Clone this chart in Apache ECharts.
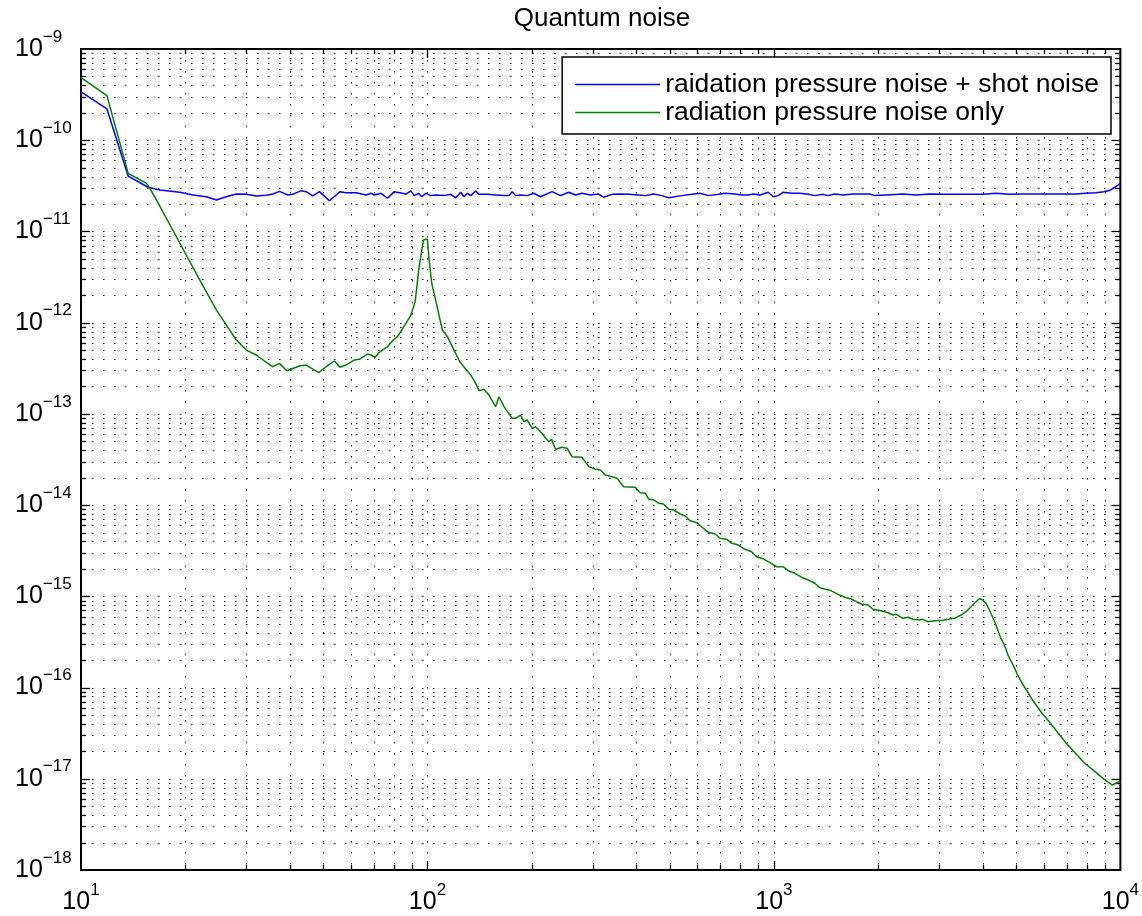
<!DOCTYPE html>
<html>
<head>
<meta charset="utf-8">
<title>Quantum noise</title>
<script src="https://cdn.jsdelivr.net/npm/echarts@6/dist/echarts.min.js"></script>
<style>
  html, body { margin: 0; padding: 0; background: #fff; }
  #chart { width: 1142px; height: 916px; }
</style>
</head>
<body>
<div id="chart"></div>
<script>
// Frequency (Hz) / amplitude pairs for each curve
const totalNoise = [
  [10,3.38e-10],[11.88,2.20e-10],[13.68,4.05e-11],[15.62,3.05e-11],[16.88,2.85e-11],[19.28,2.69e-11],
  [21.05,2.51e-11],[23.01,2.40e-11],[24.58,2.21e-11],[26.27,2.40e-11],[28.07,2.57e-11],[30.00,2.55e-11],
  [32.06,2.45e-11],[34.25,2.49e-11],[35.79,2.57e-11],[37.41,2.75e-11],[39.53,2.51e-11],[40.86,2.55e-11],
  [43.20,2.80e-11],[44.66,2.73e-11],[46.66,2.45e-11],[48.77,2.73e-11],[52.12,2.17e-11],[55.94,2.73e-11],
  [58.21,2.66e-11],[62.21,2.66e-11],[66.47,2.51e-11],[68.71,2.62e-11],[70.23,2.51e-11],[73.40,2.62e-11],
  [76.70,2.31e-11],[80.17,2.73e-11],[86.66,2.57e-11],[89.58,2.78e-11],[91.55,2.47e-11],[94.19,2.62e-11],
  [96.33,2.40e-11],[98.92,2.62e-11],[102.2,2.47e-11],[105.7,2.51e-11],[111.7,2.47e-11],[116.8,2.55e-11],
  [120.7,2.34e-11],[124.8,2.69e-11],[127.5,2.40e-11],[130.4,2.62e-11],[133.3,2.47e-11],[137.8,2.78e-11],
  [140.9,2.55e-11],[148.8,2.55e-11],[157.3,2.51e-11],[166.3,2.47e-11],[171.9,2.47e-11],[175.6,2.73e-11],
  [179.6,2.47e-11],[185.7,2.51e-11],[194.0,2.47e-11],[202.8,2.62e-11],[212.0,2.40e-11],[229.0,2.73e-11],
  [242.1,2.47e-11],[255.8,2.69e-11],[267.4,2.51e-11],[279.4,2.62e-11],[295.4,2.51e-11],[312.1,2.57e-11],
  [322.6,2.37e-11],[340.8,2.55e-11],[360.4,2.57e-11],[380.8,2.55e-11],[406.9,2.51e-11],[425.4,2.47e-11],
  [449.5,2.57e-11],[474.9,2.47e-11],[496.5,2.34e-11],[542.2,2.47e-11],[579.4,2.55e-11],[612.6,2.62e-11],
  [647.1,2.47e-11],[691.6,2.55e-11],[722.8,2.62e-11],[772.4,2.57e-11],[806.9,2.51e-11],[843.6,2.51e-11],
  [871.9,2.57e-11],[911.5,2.51e-11],[963.1,2.69e-11],[995.6,2.40e-11],[1029,2.47e-11],[1064,2.69e-11],
  [1124,2.62e-11],[1189,2.62e-11],[1256,2.55e-11],[1313,2.47e-11],[1387,2.55e-11],[1434,2.47e-11],
  [1499,2.57e-11],[1584,2.51e-11],[1692,2.57e-11],[1788,2.57e-11],[1890,2.57e-11],[1954,2.47e-11],
  [2110,2.51e-11],[2357,2.57e-11],[2575,2.51e-11],[2814,2.57e-11],[3074,2.55e-11],[3357,2.55e-11],
  [3667,2.55e-11],[4006,2.55e-11],[4375,2.62e-11],[4781,2.55e-11],[5223,2.57e-11],[5705,2.57e-11],
  [6233,2.57e-11],[6808,2.57e-11],[7435,2.57e-11],[7945,2.62e-11],[8489,2.66e-11],[8977,2.73e-11],
  [9378,2.85e-11],[9694,3.09e-11],[10000,3.37e-11]
];

const radiationNoise = [
  [10,4.85e-10],[11.88,3.08e-10],[13.68,4.34e-11],[15.46,3.37e-11],[15.80,2.97e-11],[16.52,2.21e-11],
  [19.28,7.47e-12],[22.01,2.94e-12],[24.58,1.38e-12],[28.07,6.45e-13],[30.00,5.01e-13],[32.06,4.42e-13],
  [35.64,3.29e-13],[37.41,3.58e-13],[39.26,2.97e-13],[42.70,3.35e-13],[44.66,3.43e-13],[48.55,2.83e-13],
  [50.99,3.29e-13],[53.87,3.80e-13],[55.94,3.24e-13],[58.21,3.43e-13],[61.50,3.90e-13],[63.57,3.97e-13],
  [67.17,4.53e-13],[68.71,4.42e-13],[70.70,4.17e-13],[72.60,4.73e-13],[76.70,5.45e-13],[79.28,6.34e-13],
  [81.96,7.02e-13],[86.66,9.84e-13],[89.58,1.21e-12],[92.15,1.70e-12],[94.63,4.11e-12],[97.37,8.05e-12],
  [99.98,8.26e-12],[101.1,4.86e-12],[102.9,2.70e-12],[106.1,1.63e-12],[110.4,8.31e-13],[114.2,7.02e-13],
  [119.3,5.01e-13],[124.0,3.73e-13],[128.4,3.16e-13],[133.3,2.67e-13],[137.8,2.16e-13],[140.9,1.80e-13],
  [145.6,1.86e-13],[150.5,1.61e-13],[157.3,1.20e-13],[160.9,1.54e-13],[166.3,1.20e-13],[175.6,8.94e-14],
  [179.6,8.94e-14],[185.7,9.72e-14],[189.8,8.21e-14],[194.0,8.57e-14],[200.6,6.95e-14],[205.1,7.24e-14],
  [212.0,6.38e-14],[224.0,4.95e-14],[228.1,5.26e-14],[234.2,4.09e-14],[244.7,4.30e-14],[252.9,4.20e-14],
  [261.5,3.39e-14],[279.4,3.34e-14],[292.1,2.64e-14],[305.3,2.47e-14],[315.6,2.43e-14],[326.2,2.14e-14],
  [340.8,2.05e-14],[352.4,1.97e-14],[368.4,1.59e-14],[398.0,1.57e-14],[411.4,1.37e-14],[425.4,1.35e-14],
  [434.6,1.17e-14],[449.5,1.14e-14],[464.5,1.05e-14],[480.1,1.03e-14],[496.5,8.99e-15],[513.2,8.84e-15],
  [536.5,7.99e-15],[554.6,7.60e-15],[573.3,6.75e-15],[598.9,6.41e-15],[626.1,5.57e-15],[647.1,5.03e-15],
  [676.7,4.82e-15],[699.5,4.33e-15],[730.8,4.22e-15],[755.4,3.81e-15],[789.7,3.65e-15],[825.5,3.28e-15],
  [862.4,3.08e-15],[891.2,2.72e-15],[931.8,2.58e-15],[974.1,2.34e-15],[1018,2.11e-15],[1064,2.11e-15],
  [1100,1.91e-15],[1150,1.79e-15],[1201,1.62e-15],[1256,1.51e-15],[1313,1.39e-15],[1357,1.24e-15],
  [1403,1.20e-15],[1466,1.15e-15],[1532,1.05e-15],[1602,9.76e-16],[1673,9.35e-16],[1729,8.73e-16],
  [1788,8.24e-16],[1869,8.03e-16],[1932,7.21e-16],[2041,6.96e-16],[2134,6.61e-16],[2206,6.24e-16],
  [2255,6.35e-16],[2357,5.74e-16],[2437,5.89e-16],[2519,5.60e-16],[2633,5.50e-16],[2691,5.60e-16],
  [2782,5.27e-16],[2909,5.41e-16],[3074,5.46e-16],[3213,5.64e-16],[3321,5.74e-16],[3469,6.24e-16],
  [3586,6.78e-16],[3707,7.69e-16],[3832,8.73e-16],[3920,9.42e-16],[4006,9.11e-16],[4095,8.38e-16],
  [4188,7.08e-16],[4281,5.89e-16],[4375,4.85e-16],[4505,3.55e-16],[4626,2.93e-16],[4750,2.22e-16],
  [4888,1.81e-16],[5053,1.37e-16],[5282,1.02e-16],[5580,7.30e-17],[5896,5.43e-17],[6233,4.22e-17],
  [6586,3.23e-17],[6959,2.48e-17],[7356,1.98e-17],[7862,1.50e-17],[8400,1.22e-17],[8977,9.86e-18],
  [9484,8.54e-18],[9694,8.92e-18],[10000,9.45e-18]
];

const seriesNames = ['raidation pressure noise + shot noise', 'radiation pressure noise only'];
const chartTitle = 'Quantum noise';

// Axis ranges (decades) and the decade starts that carry 1..9 minor ticks
const xRange = [10, 10000];
const yRange = [1e-18, 1e-9];
const xDecades = [10, 100, 1000];
const yDecades = [1e-18, 1e-17, 1e-16, 1e-15, 1e-14, 1e-13, 1e-12, 1e-11, 1e-10];

const FONT = "'Liberation Sans', Arial, Helvetica, sans-serif";

// Grid/tick positions: k * decade, k = 1..9, plus the closing decade
function decadeTicks(decades, last) {
  const out = [];
  decades.forEach(d => { for (let k = 1; k <= 9; k++) out.push({ v: k * d, major: k === 1 ? 1 : 0 }); });
  out.push({ v: last, major: 1 });
  return out;
}
const xGridData = decadeTicks(xDecades, xRange[1]).map(t => [t.v, 1e-12, t.major]);
const yGridData = decadeTicks(yDecades, yRange[1]).map(t => [100, t.v, t.major]);

const DOT = { stroke: '#000', lineWidth: 1, lineDash: [1.5, 9.5] };
const TICK = { stroke: '#000', lineWidth: 1.3 };

function renderVGrid(params, api) {
  const cs = params.coordSys;
  const x = Math.round(api.coord([api.value(0), 1e-12])[0]) + 0.5;
  if (x <= cs.x + 1.5 || x >= cs.x + cs.width - 1.5) return { type: 'group', children: [] };
  const len = api.value(2) ? 9 : 5;
  const top = cs.y, bottom = cs.y + cs.height;
  return {
    type: 'group',
    children: [
      { type: 'line', shape: { x1: x, y1: top, x2: x, y2: bottom }, style: DOT, silent: true },
      { type: 'line', shape: { x1: x, y1: bottom, x2: x, y2: bottom - len }, style: TICK, silent: true },
      { type: 'line', shape: { x1: x, y1: top, x2: x, y2: top + len }, style: TICK, silent: true }
    ]
  };
}

function renderHGrid(params, api) {
  const cs = params.coordSys;
  const y = Math.round(api.coord([100, api.value(1)])[1]) + 0.5;
  if (y <= cs.y + 1.5 || y >= cs.y + cs.height - 1.5) return { type: 'group', children: [] };
  const len = api.value(2) ? 9 : 5;
  const left = cs.x, right = cs.x + cs.width;
  return {
    type: 'group',
    children: [
      { type: 'line', shape: { x1: left, y1: y, x2: right, y2: y }, style: DOT, silent: true },
      { type: 'line', shape: { x1: left, y1: y, x2: left + len, y2: y }, style: TICK, silent: true },
      { type: 'line', shape: { x1: right, y1: y, x2: right - len, y2: y }, style: TICK, silent: true }
    ]
  };
}

// "10" with a raised exponent
function powerLabel(value) {
  const e = Math.round(Math.log10(value));
  const exp = e < 0 ? '\u2212' + (-e) : String(e);
  return '{b|10}{s|' + exp + '}';
}
const labelRich = {
  b: { fontFamily: FONT, fontSize: 25, color: '#000', padding: [8, 0, 8, 0] },
  s: { fontFamily: FONT, fontSize: 17, color: '#000', verticalAlign: 'top' }
};

const chart = echarts.init(document.getElementById('chart'), null, { renderer: 'canvas' });

chart.setOption({
  animation: false,
  backgroundColor: '#fff',
  graphic: [{
    type: 'text',
    x: 602,
    y: 19,
    silent: true,
    style: {
      text: chartTitle,
      fill: '#000',
      font: '26px ' + FONT,
      textAlign: 'center',
      textVerticalAlign: 'middle'
    }
  }],
  grid: {
    left: 81, top: 49, width: 1042, height: 821,
    show: true, borderColor: '#000', borderWidth: 2, backgroundColor: 'transparent',
    containLabel: false
  },
  legend: {
    data: seriesNames,
    orient: 'vertical',
    right: 31,
    top: 57,
    padding: [14, 12, 8, 13],
    itemGap: 1,
    itemWidth: 85,
    itemHeight: 1.6,
    icon: 'rect',
    selectedMode: false,
    backgroundColor: '#fff',
    borderColor: '#000',
    borderWidth: 1.5,
    borderRadius: 0,
    textStyle: { fontFamily: FONT, fontSize: 26.5, color: '#000' }
  },
  xAxis: {
    type: 'log',
    logBase: 10,
    min: xRange[0],
    max: xRange[1],
    splitNumber: 3,
    axisLine: { show: false },
    axisTick: { show: false },
    splitLine: { show: false },
    minorTick: { show: false },
    axisLabel: {
      show: true,
      margin: 12,
      showMinLabel: true,
      showMaxLabel: true,
      formatter: powerLabel,
      rich: labelRich
    }
  },
  yAxis: {
    type: 'log',
    logBase: 10,
    min: yRange[0],
    max: yRange[1],
    splitNumber: 9,
    axisLine: { show: false },
    axisTick: { show: false },
    splitLine: { show: false },
    minorTick: { show: false },
    axisLabel: {
      show: true,
      margin: 66,
      align: 'left',
      showMinLabel: true,
      showMaxLabel: true,
      formatter: powerLabel,
      rich: labelRich
    }
  },
  series: [
    {
      type: 'custom',
      name: 'xgrid',
      coordinateSystem: 'cartesian2d',
      renderItem: renderVGrid,
      data: xGridData,
      encode: { x: 0, y: 1 },
      clip: false,
      silent: true,
      z: 1
    },
    {
      type: 'custom',
      name: 'ygrid',
      coordinateSystem: 'cartesian2d',
      renderItem: renderHGrid,
      data: yGridData,
      encode: { x: 0, y: 1 },
      clip: false,
      silent: true,
      z: 1
    },
    {
      type: 'line',
      name: seriesNames[0],
      data: totalNoise,
      symbol: 'none',
      color: '#0000ff',
      lineStyle: { color: '#0000ff', width: 1.5 },
      z: 3
    },
    {
      type: 'line',
      name: seriesNames[1],
      data: radiationNoise,
      symbol: 'none',
      color: '#008000',
      lineStyle: { color: '#008000', width: 1.5 },
      z: 4
    }
  ]
});
</script>
</body>
</html>
